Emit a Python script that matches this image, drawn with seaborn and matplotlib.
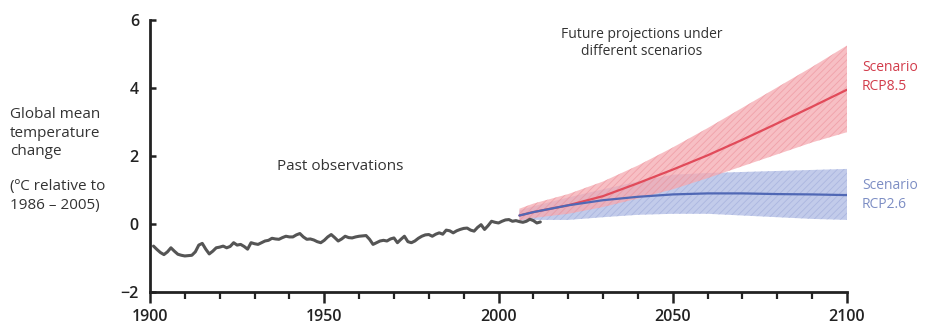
import numpy as np
import pandas as pd
import matplotlib
matplotlib.use("Agg")
import matplotlib.pyplot as plt
import seaborn as sns

# ---------------- data ----------------
obs_years = list(range(1901, 2013))
obs_values = [
    -0.65, -0.75, -0.84, -0.90, -0.82, -0.70, -0.80, -0.89, -0.92, -0.94,
    -0.93, -0.92, -0.82, -0.62, -0.57, -0.74, -0.88, -0.80, -0.70, -0.68,
    -0.65, -0.70, -0.66, -0.55, -0.62, -0.60, -0.66, -0.74, -0.55, -0.58,
    -0.60, -0.55, -0.50, -0.48, -0.42, -0.44, -0.45, -0.40, -0.36, -0.38,
    -0.38, -0.32, -0.28, -0.38, -0.45, -0.44, -0.47, -0.52, -0.55, -0.48,
    -0.38, -0.31, -0.40, -0.50, -0.44, -0.36, -0.40, -0.41, -0.38, -0.36,
    -0.35, -0.34, -0.45, -0.60, -0.55, -0.50, -0.48, -0.50, -0.44, -0.41,
    -0.55, -0.45, -0.36, -0.52, -0.55, -0.50, -0.42, -0.36, -0.32, -0.31,
    -0.36, -0.30, -0.26, -0.30, -0.18, -0.20, -0.26, -0.20, -0.16, -0.13,
    -0.12, -0.18, -0.21, -0.10, -0.02, -0.16, -0.05, 0.08, 0.05, 0.03,
    0.08, 0.12, 0.13, 0.08, 0.10, 0.07, 0.05, 0.08, 0.14, 0.10,
    0.03, 0.06,
]

proj_years = [2006, 2010, 2020, 2030, 2040, 2050, 2060, 2070, 2080, 2090, 2100]
rcp85_mean = [0.25, 0.35, 0.55, 0.82, 1.20, 1.60, 2.02, 2.48, 2.96, 3.45, 3.95]
rcp85_high = [0.45, 0.60, 0.88, 1.25, 1.72, 2.25, 2.82, 3.42, 4.02, 4.62, 5.25]
rcp85_low = [0.10, 0.18, 0.30, 0.50, 0.75, 1.02, 1.35, 1.70, 2.05, 2.40, 2.70]
rcp26_mean = [0.25, 0.35, 0.55, 0.70, 0.80, 0.87, 0.90, 0.90, 0.88, 0.87, 0.85]
rcp26_high = [0.40, 0.52, 0.78, 1.02, 1.25, 1.45, 1.50, 1.53, 1.56, 1.59, 1.62]
rcp26_low = [0.10, 0.12, 0.12, 0.20, 0.27, 0.30, 0.30, 0.25, 0.20, 0.15, 0.12]

x_major = [1900, 1950, 2000, 2050, 2100]
y_ticks = [-2, 0, 2, 4, 6]
y_ticklabels = ["\u22122", "0", "2", "4", "6"]

obs_df = pd.DataFrame({"year": obs_years, "temp": obs_values})
proj_df = pd.DataFrame({
    "year": proj_years * 2,
    "temp": rcp85_mean + rcp26_mean,
    "scenario": ["RCP8.5"] * len(proj_years) + ["RCP2.6"] * len(proj_years),
})

# ---------------- style ----------------
sns.set_theme(style="white")
plt.rcParams["font.family"] = ["Open Sans", "DejaVu Sans"]
plt.rcParams["hatch.linewidth"] = 0.6

RED_FILL = "#f5aab1"
RED_LINE = "#e14b5a"
RED_TEXT = "#d23c4b"
BLUE_FILL = "#bcc6e8"
BLUE_LINE = "#5068b5"
BLUE_TEXT = "#7d8ec4"
GREY = "#555555"
DARK = "#222222"
TEXT = "#333333"

fig = plt.figure(figsize=(9.26, 3.24), dpi=100)
ax = fig.add_axes([150 / 926, 1 - 292 / 324, (847 - 150) / 926, (292 - 20) / 324])

# bands
ax.fill_between(proj_years, rcp26_low, rcp26_high, facecolor=BLUE_FILL,
                edgecolor="#a9b4df", hatch="/////", linewidth=0, alpha=0.9, zorder=1)
ax.fill_between(proj_years, rcp85_low, rcp85_high, facecolor=RED_FILL,
                edgecolor="#ee97a0", hatch="/////", linewidth=0, alpha=0.75, zorder=2)

sns.lineplot(data=proj_df, x="year", y="temp", hue="scenario",
             palette={"RCP8.5": RED_LINE, "RCP2.6": BLUE_LINE},
             linewidth=1.6, legend=False, ax=ax, zorder=3)
sns.lineplot(data=obs_df, x="year", y="temp", color=GREY, linewidth=2.2,
             ax=ax, zorder=4)

# axes
ax.set_xlim(1900, 2100)
ax.set_ylim(-2, 6)
ax.set_xticks(x_major)
ax.set_xticks(list(range(1900, 2101, 10)), minor=True)
ax.set_yticks(y_ticks)
ax.set_yticklabels(y_ticklabels)
ax.set_xlabel("")
ax.set_ylabel("")
for s in ["top", "right"]:
    ax.spines[s].set_visible(False)
for s in ["left", "bottom"]:
    ax.spines[s].set_color(DARK)
    ax.spines[s].set_linewidth(2.0)
ax.tick_params(axis="x", which="major", direction="out", length=8, width=1.8,
               color=DARK, labelsize=11.5, labelcolor=DARK, pad=4, bottom=True)
ax.tick_params(axis="x", which="minor", direction="out", length=5, width=1.6,
               color=DARK, bottom=True)
ax.tick_params(axis="y", which="major", direction="in", length=4, width=1.8,
               color=DARK, labelsize=11.5, labelcolor=DARK, pad=8, left=True)
for lab in ax.get_xticklabels() + ax.get_yticklabels():
    lab.set_fontweight("semibold")

# annotations
fig.text(340 / 926, 1 - 166 / 324, "Past observations", fontsize=11, color=TEXT,
         ha="center", va="center")
fig.text(642 / 926, 1 - 43 / 324, "Future projections under\ndifferent scenarios",
         fontsize=10, color=TEXT, ha="center", va="center", linespacing=1.2)
fig.text(862 / 926, 1 - 77 / 324, "Scenario\nRCP8.5", fontsize=10, color=RED_TEXT,
         ha="left", va="center", linespacing=1.3)
fig.text(862 / 926, 1 - 195 / 324, "Scenario\nRCP2.6", fontsize=10, color=BLUE_TEXT,
         ha="left", va="center", linespacing=1.3)
fig.text(10 / 926, 1 - 133 / 324, "Global mean\ntemperature\nchange",
         fontsize=11, color=TEXT, ha="left", va="center", linespacing=1.3)
fig.text(10 / 926, 1 - 196 / 324, "(\u00baC relative to\n1986 \u2013 2005)",
         fontsize=11, color=TEXT, ha="left", va="center", linespacing=1.3)

fig.savefig("out.png", dpi=100)
